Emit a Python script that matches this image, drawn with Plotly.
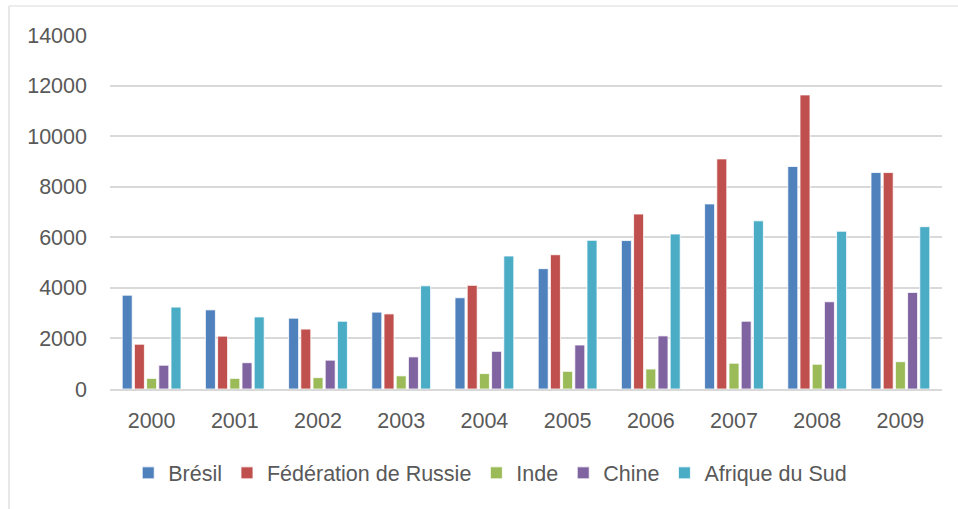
import plotly.graph_objects as go

years = ["2000", "2001", "2002", "2003", "2004", "2005", "2006", "2007", "2008", "2009"]
bresil = [3710, 3130, 2800, 3040, 3610, 4760, 5870, 7320, 8800, 8560]
russie = [1770, 2090, 2370, 2970, 4100, 5310, 6920, 9100, 11630, 8560]
inde = [420, 420, 450, 520, 610, 700, 790, 1020, 980, 1080]
chine = [940, 1040, 1140, 1270, 1490, 1740, 2100, 2680, 3450, 3820]
afrique = [3240, 2850, 2680, 4080, 5260, 5880, 6130, 6650, 6240, 6420]

series = [
    ("Brésil", bresil, "#4F81BD"),
    ("Fédération de Russie", russie, "#C0504D"),
    ("Inde", inde, "#9BBB59"),
    ("Chine", chine, "#8064A2"),
    ("Afrique du Sud", afrique, "#4BACC6"),
]

W, H = 958, 509
L, R, T, B = 110, 16, 35, 120
pw, ph = W - L - R, H - T - B

fig = go.Figure()
for name, vals, col in series:
    fig.add_trace(go.Bar(x=years, y=vals, name=name,
                         marker=dict(color=col, line=dict(color="white", width=0.8))))

font = "Liberation Sans"
fig.update_layout(
    width=W, height=H,
    margin=dict(l=L, r=R, t=T, b=B),
    paper_bgcolor="white", plot_bgcolor="white",
    barmode="group", bargap=0.267, bargroupgap=0.18,
    font=dict(family=font, size=21, color="#595959"),
    showlegend=True,
    legend=dict(orientation="h", x=0.457, xanchor="center", y=-0.237, yanchor="middle",
                font=dict(size=21.5, color="#595959"), itemwidth=30, tracegroupgap=0),
    xaxis=dict(showgrid=False, showline=True, linecolor="#D9D9D9", linewidth=1.5,
               ticks="", tickfont=dict(size=21.5), ticklabelstandoff=11),
    yaxis=dict(range=[0, 14000], dtick=2000, tickformat="d", showgrid=True,
               gridcolor="#D9D9D9", gridwidth=1.5,
               zeroline=False, ticks="", showline=False, tickfont=dict(size=21.5),
               ticklabelstandoff=22),
    shapes=[
        dict(type="line", xref="paper", yref="paper",
             x0=(9 - L) / pw, x1=(9 - L) / pw, y0=1 + (T - 6) / ph, y1=-B / ph - 0.1,
             line=dict(color="#D9D9D9", width=1.2)),
        dict(type="line", xref="paper", yref="paper",
             x0=(9 - L) / pw, x1=1 + R / pw + 0.1, y0=1 + (T - 6) / ph, y1=1 + (T - 6) / ph,
             line=dict(color="#D9D9D9", width=1.2)),
    ],
)

fig.write_html("out.html", config={"displayModeBar": False},
               post_script="document.body.style.margin='0';")
